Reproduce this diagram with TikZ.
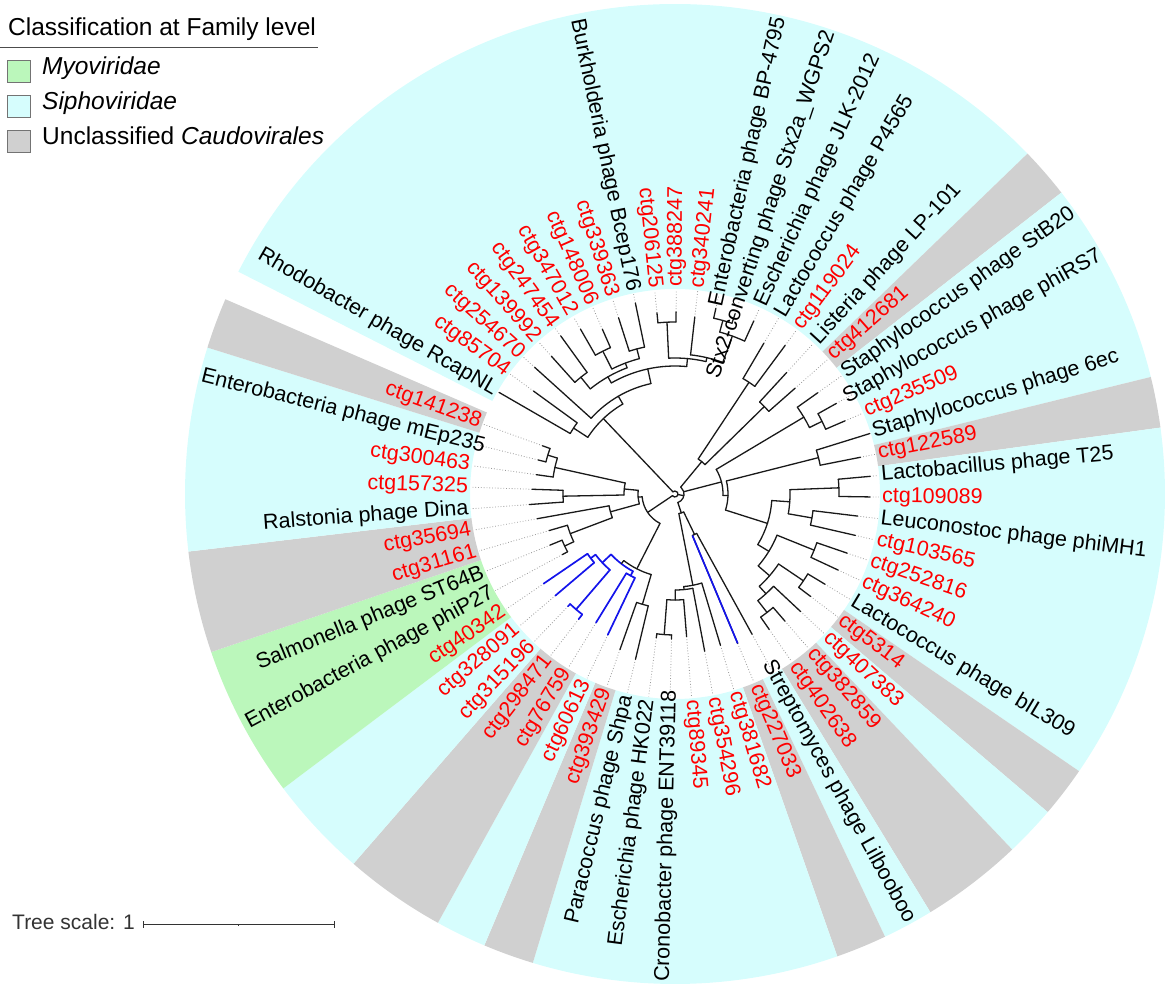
\documentclass[tikz,border=0pt]{standalone}
\usepackage{fontspec}
\setmainfont{Liberation Sans}
\usetikzlibrary{calc}
\definecolor{cy}{RGB}{214,253,253}
\definecolor{gr}{RGB}{208,208,208}
\definecolor{gn}{RGB}{187,247,187}
\definecolor{tred}{RGB}{255,0,0}
\definecolor{tblue}{RGB}{20,20,235}
\definecolor{dk}{RGB}{51,51,51}
\newcommand\rsec[3]{\fill[#1] (#2:205) arc[start angle=#2,end angle=#3,radius=205pt] -- (#3:490) arc[start angle=#3,end angle=#2,radius=490pt] -- cycle;}
\newcommand\leaf[3]{\pgfmathsetmacro\tmpa{150-(#2-1)*6.0345}\expandafter\xdef\csname ang#1\endcsname{\tmpa}\expandafter\xdef\csname rad#1\endcsname{#3}\draw[leader] (\tmpa:#3) -- (\tmpa:204);}
\newcommand\clade[4][]{%
  \gdef\amin{1000}\gdef\amax{-1000}%
  \foreach \c in {#4}{%
    \edef\cang{\csname ang\c\endcsname}%
    \edef\crad{\csname rad\c\endcsname}%
    \pgfmathsetmacro\tmpa{min(\amin,\cang)}\xdef\amin{\tmpa}%
    \pgfmathsetmacro\tmpb{max(\amax,\cang)}\xdef\amax{\tmpb}%
    \draw[br,#1] (\cang:#3) -- (\cang:\crad);%
  }%
  \draw[br,#1] (\amin:#3) arc[start angle=\amin, end angle=\amax, radius=#3pt];%
  \pgfmathsetmacro\tmpa{(\amin+\amax)/2}%
  \expandafter\xdef\csname ang#2\endcsname{\tmpa}%
  \expandafter\xdef\csname rad#2\endcsname{#3}%
}
\newcommand\lab[4]{%
  \pgfmathsetmacro\la{150-(#1-1)*6.0345}%
  \ifdim\la pt>90pt \def\lside{1}\else\ifdim\la pt<-90pt \def\lside{1}\else\def\lside{0}\fi\fi
  \ifnum\lside=1
     \pgfmathsetmacro\lrot{\la+180}%
     \ifnum#4=1 \node[lbl,text=#2,anchor=west,rotate=\lrot] (L#1) at (\la:489) {#3};%
     \else \node[lbl,text=#2,anchor=east,rotate=\lrot] (L#1) at (\la:206) {#3};\fi
  \else
     \ifnum#4=1 \node[lbl,text=#2,anchor=east,rotate=\la] (L#1) at (\la:489) {#3};%
     \else \node[lbl,text=#2,anchor=west,rotate=\la] (L#1) at (\la:206) {#3};\fi
  \fi}
\begin{document}
\begin{tikzpicture}[x=1pt,y=1pt,
  br/.style={line width=1.3pt, black!90, line cap=round},
  blu/.style={draw=tblue, line width=1.7pt},
  leader/.style={black!40, dotted, line width=0.8pt},
  lbl/.style={font=\fontsize{21.5}{24}\selectfont, inner sep=1pt}]
\useasboundingbox (0,0) rectangle (1170,989);
\begin{scope}[shift={(675,495)}]
% colored ranges
\rsec{cy}{44.0}{153.02}
\rsec{gr}{37.96}{44.0}
\rsec{cy}{13.82}{37.96}
\rsec{gr}{7.79}{13.82}
\rsec{cy}{-34.45}{7.79}
\rsec{gr}{-40.48}{-34.45}
\rsec{cy}{-46.52}{-40.48}
\rsec{gr}{-58.59}{-46.52}
\rsec{cy}{-64.62}{-58.59}
\rsec{gr}{-70.66}{-64.62}
\rsec{cy}{-106.87}{-70.66}
\rsec{gr}{-112.9}{-106.87}
\rsec{cy}{-118.94}{-112.9}
\rsec{gr}{-131.01}{-118.94}
\rsec{cy}{-143.07}{-131.01}
\rsec{gn}{-161.18}{-143.07}
\rsec{gr}{-173.25}{-161.18}
\rsec{cy}{-197.39}{-173.25}
\rsec{gr}{-203.42}{-197.39}
% leaves (name, index, tip radius)
\leaf{l1}{1}{203}\leaf{l2}{2}{175}\leaf{l3}{3}{189}\leaf{l4}{4}{185}\leaf{l5}{5}{195}
\leaf{l6}{6}{190}\leaf{l7}{7}{180}\leaf{l8}{8}{185}\leaf{l9}{9}{195}\leaf{l10}{10}{182}
\leaf{l11}{11}{182}\leaf{l12}{12}{178}\leaf{l13}{13}{190}\leaf{l14}{14}{190}\leaf{l15}{15}{190}
\leaf{l16}{16}{175}\leaf{l17}{17}{185}\leaf{l18}{18}{165}\leaf{l19}{19}{160}\leaf{l20}{20}{175}
\leaf{l21}{21}{185}\leaf{l22}{22}{185}\leaf{l23}{23}{204}\leaf{l24}{24}{189}\leaf{l25}{25}{196}
\leaf{l26}{26}{195}\leaf{l27}{27}{184}\leaf{l28}{28}{185}\leaf{l29}{29}{182}\leaf{l30}{30}{180}
\leaf{l31}{31}{175}\leaf{l32}{32}{170}\leaf{l33}{33}{172}\leaf{l34}{34}{168}\leaf{l35}{35}{165}
\leaf{l36}{36}{160}\leaf{l37}{37}{162}\leaf{l38}{38}{158}\leaf{l39}{39}{160}\leaf{l40}{40}{143}
\leaf{l41}{41}{145}\leaf{l42}{42}{145}\leaf{l43}{43}{170}\leaf{l44}{44}{165}\leaf{l45}{45}{156}
\leaf{l46}{46}{151}\leaf{l47}{47}{158}\leaf{l48}{48}{155}\leaf{l49}{49}{157}\leaf{l50}{50}{159}
\leaf{l51}{51}{128}\leaf{l52}{52}{135}\leaf{l53}{53}{131}\leaf{l54}{54}{140}\leaf{l55}{55}{146}
\leaf{l56}{56}{143}\leaf{l57}{57}{140}\leaf{l58}{58}{141}\leaf{l59}{59}{141}
% tree
\clade{aa}{121}{l1,l2}
\clade{ab}{150}{l4,l5}
\clade{ac}{160}{l6,l7}
\clade{ad}{150}{l8,l9}
\clade{ae}{140}{ac,ad}
\clade{af}{135}{ab,ae}
\clade{ag}{172}{l10,l11}
\clade{ah}{180}{l13,l14}
\clade{ai}{168}{ah,l15}
\clade{aj}{140}{l12,ai}
\clade{ak}{136}{ag,aj}
\clade{al}{128}{af,ak}
\clade{am}{113}{l3,al}
\clade{nA}{104}{aa,am}
\clade{ba}{134}{l16,l17}
\clade{bb}{125}{l18,l19}
\clade{nB}{42}{ba,bb}
\clade{ca}{164}{l21,l22}
\clade{cb}{150}{l20,ca}
\clade{cc}{148}{l23,l24}
\clade{cd}{164}{l25,l26}
\clade{ce}{139}{l27,l28}
\clade{cf}{115}{cd,ce}
\clade{cg}{150}{l29,l30}
\clade{ch}{155}{l31,l32}
\clade{ci}{150}{l34,l35}
\clade{cj}{135}{l33,ci}
\clade{ck}{125}{ch,cj}
\clade{cl}{110}{cg,ck}
\clade{cm}{97}{cf,cl}
\clade{cn}{53}{cc,cm}
\clade{nC}{48}{cb,cn}
\clade{da}{45}{l36,l37}
\edef\tmpc{\csname angl37\endcsname}
\draw[blu] (\tmpc:45) -- (\tmpc:162);
\clade{db}{141}{l41,l42}
\clade{dc}{106}{l40,db}
\clade{dd}{96}{l39,dc}
\clade{de}{93}{l38,dd}
\clade{nD}{20}{da,de}
\clade[blu]{ea}{93}{l45,l46}
\clade[blu]{eb}{152}{l47,l48}
\clade[blu]{ec}{106}{l49,l50}
\clade[blu]{ed}{100}{eb,ec}
\clade[blu]{ee}{88}{ea,ed}
\clade{ef}{115}{l43,l44}
\clade{eg}{84}{ee,ef}
\clade{fa}{112}{l55,l56}
\clade{fb}{133}{l58,l59}
\clade{fc}{123}{l57,fb}
\clade{fd}{51}{fa,fc}
\clade{fe}{122}{l51,l52}
\clade{ff}{112}{l53,fe}
\clade{fg}{67}{l54,ff}
\clade{fh}{37}{fg,fd}
\clade{nE}{33}{fh,eg}
\clade{nR}{9}{nD,nC,nB}
\clade{root}{3}{nE,nR,nA}
% labels
\lab{1}{black}{Rhodobacter phage RcapNL}{0}
\lab{2}{tred}{ctg85704}{0}
\lab{3}{tred}{ctg254670}{0}
\lab{4}{tred}{ctg139992}{0}
\lab{5}{tred}{ctg247454}{0}
\lab{6}{tred}{ctg347012}{0}
\lab{7}{tred}{ctg148006}{0}
\lab{8}{tred}{ctg339363}{0}
\lab{9}{black}{Burkholderia phage Bcep176}{0}
\lab{10}{tred}{ctg206125}{0}
\lab{11}{tred}{ctg388247}{0}
\lab{12}{tred}{ctg340241}{0}
\lab{13}{black}{Enterobacteria phage BP-4795}{1}
\lab{14}{black}{Stx2-converting phage Stx2a\_WGPS2}{1}
\lab{15}{black}{Escherichia phage JLK-2012}{0}
\lab{16}{black}{Lactococcus phage P4565}{0}
\lab{17}{tred}{ctg119024}{0}
\lab{18}{black}{Listeria phage LP-101}{0}
\lab{19}{tred}{ctg412681}{0}
\lab{20}{black}{Staphylococcus phage StB20}{1}
\lab{21}{black}{Staphylococcus phage phiRS7}{1}
\lab{22}{tred}{ctg235509}{0}
\lab{23}{black}{Staphylococcus phage 6ec}{0}
\lab{24}{tred}{ctg122589}{0}
\lab{25}{black}{Lactobacillus phage T25}{0}
\lab{26}{tred}{ctg109089}{0}
\lab{27}{black}{Leuconostoc phage phiMH1}{0}
\lab{28}{tred}{ctg103565}{0}
\lab{29}{tred}{ctg252816}{0}
\lab{30}{tred}{ctg364240}{0}
\lab{31}{black}{Lactococcus phage bIL309}{0}
\lab{32}{tred}{ctg5314}{0}
\lab{33}{tred}{ctg407383}{0}
\lab{34}{tred}{ctg382859}{0}
\lab{35}{tred}{ctg402638}{0}
\lab{36}{black}{Streptomyces phage Lilbooboo}{1}
\lab{37}{tred}{ctg227033}{0}
\lab{38}{tred}{ctg381682}{0}
\lab{39}{tred}{ctg354296}{0}
\lab{40}{tred}{ctg89345}{0}
\lab{41}{black}{Cronobacter phage ENT39118}{1}
\lab{42}{black}{Escherichia phage HK022}{0}
\lab{43}{black}{Paracoccus phage Shpa}{0}
\lab{44}{tred}{ctg393429}{0}
\lab{45}{tred}{ctg60613}{0}
\lab{46}{tred}{ctg76759}{0}
\lab{47}{tred}{ctg298471}{0}
\lab{48}{tred}{ctg315196}{0}
\lab{49}{tred}{ctg328091}{0}
\lab{50}{tred}{ctg40342}{0}
\lab{51}{black}{Enterobacteria phage phiP27}{0}
\lab{52}{black}{Salmonella phage ST64B}{0}
\lab{53}{tred}{ctg31161}{0}
\lab{54}{tred}{ctg35694}{0}
\lab{55}{black}{Ralstonia phage Dina}{0}
\lab{56}{tred}{ctg157325}{0}
\lab{57}{tred}{ctg300463}{0}
\lab{58}{black}{Enterobacteria phage mEp235}{1}
\lab{59}{tred}{ctg141238}{0}
\end{scope}
% legend
\node[anchor=base west, inner sep=0, font=\fontsize{24.5}{28}\selectfont] (ltitle) at (8,953) {Classification at Family level};
\draw[black!70, line width=0.9pt] (0,942) -- (318,942);
\node[draw=black!55, fill=gn, minimum width=23pt, minimum height=22pt, inner sep=0, anchor=south west] (b1) at (7,907) {};
\node[draw=black!55, fill=cy, minimum width=23pt, minimum height=22pt, inner sep=0, anchor=south west] (b2) at (7,872) {};
\node[draw=black!55, fill=gr, minimum width=23pt, minimum height=22pt, inner sep=0, anchor=south west] (b3) at (7,837) {};
\node[anchor=base west, inner sep=0, font=\fontsize{24.5}{28}\selectfont] (t1) at (42,914) {\itshape Myoviridae};
\node[anchor=base west, inner sep=0, font=\fontsize{24.5}{28}\selectfont] (t2) at (42,879) {\itshape Siphoviridae};
\node[anchor=base west, inner sep=0, font=\fontsize{24.5}{28}\selectfont] (t3) at (42,844) {Unclassified \textit{Caudovirales}};
% tree scale
\node[anchor=base west, inner sep=0, text=dk, font=\fontsize{21}{24}\selectfont] (ts) at (12,60) {Tree scale: 1};
\coordinate (s1) at (143,65);
\coordinate (s2) at (334,65);
\draw[dk, line width=0.9pt] (s1) -- (s2);
\draw[dk, line width=0.9pt] ([yshift=-3.5pt]s1) -- ([yshift=3.5pt]s1);
\draw[dk, line width=0.9pt] ([yshift=-3.5pt]s2) -- ([yshift=3.5pt]s2);
\draw[dk, line width=0.9pt] ($(s1)!0.5!(s2)$) -- ++(0,-2);
\end{tikzpicture}
\end{document}
